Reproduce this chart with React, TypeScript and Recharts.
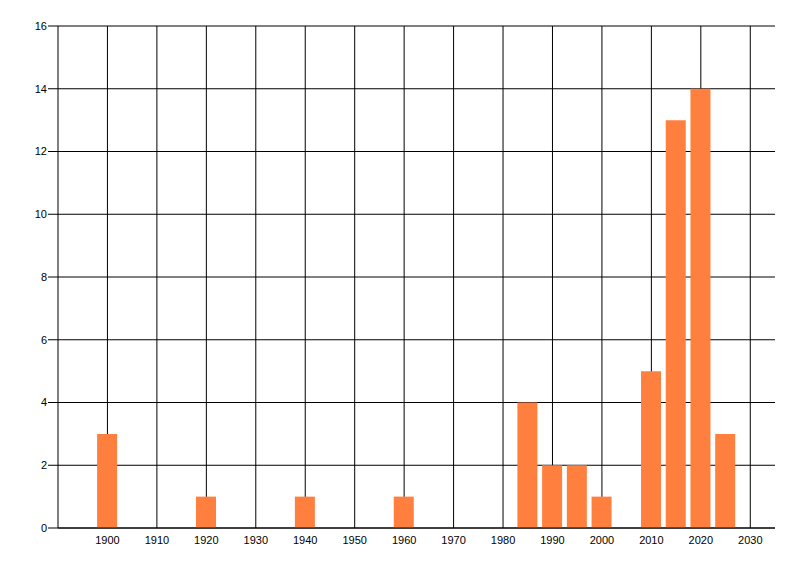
import { BarChart, Bar, XAxis, YAxis, CartesianGrid } from 'recharts';

const years = [1900, 1920, 1940, 1960, 1985, 1990, 1995, 2000, 2010, 2015, 2020, 2025];
const counts = [3, 1, 1, 1, 4, 2, 2, 1, 5, 13, 14, 3];
const xTicks = [1900, 1910, 1920, 1930, 1940, 1950, 1960, 1970, 1980, 1990, 2000, 2010, 2020, 2030];
const yTicks = [0, 2, 4, 6, 8, 10, 12, 14, 16];
const xDomain = [1890, 2035];

const data = years.map((year, i) => ({ year, count: counts[i] }));

const tickStyle = { fill: '#000', fontSize: 11, fontFamily: 'Liberation Sans, Arial, sans-serif' };

// decade lines only, no closing line at the right edge
const decadeLines = ({ xAxis, offset }: any) => {
  if (xAxis && typeof xAxis.scale === 'function') return xTicks.map((t) => xAxis.scale(t));
  const span = xDomain[1] - xDomain[0];
  return xTicks.map((t) => offset.left + ((t - xDomain[0]) / span) * offset.width);
};

export default function App() {
  return (
    <div style={{ position: 'absolute', left: 0, top: 0, width: 800, height: 576, background: '#fff' }}>
      <BarChart width={800} height={576} data={data} margin={{ top: 26, right: 25, bottom: 0, left: 0 }}>
        <CartesianGrid stroke="#000" strokeWidth={1} verticalCoordinatesGenerator={decadeLines} />
        <XAxis
          dataKey="year"
          type="number"
          domain={xDomain}
          ticks={xTicks}
          interval={0}
          height={48}
          tickLine={false}
          tickSize={6}
          tickMargin={2}
          axisLine={{ stroke: '#000' }}
          tick={tickStyle}
        />
        <YAxis
          domain={[0, 16]}
          ticks={yTicks}
          interval={0}
          width={58}
          tickSize={10}
          tickMargin={1}
          tickLine={{ stroke: '#000' }}
          axisLine={{ stroke: '#000' }}
          tick={tickStyle}
        />
        <Bar dataKey="count" fill="#FF7F3F" barSize={20} isAnimationActive={false} />
      </BarChart>
    </div>
  );
}
